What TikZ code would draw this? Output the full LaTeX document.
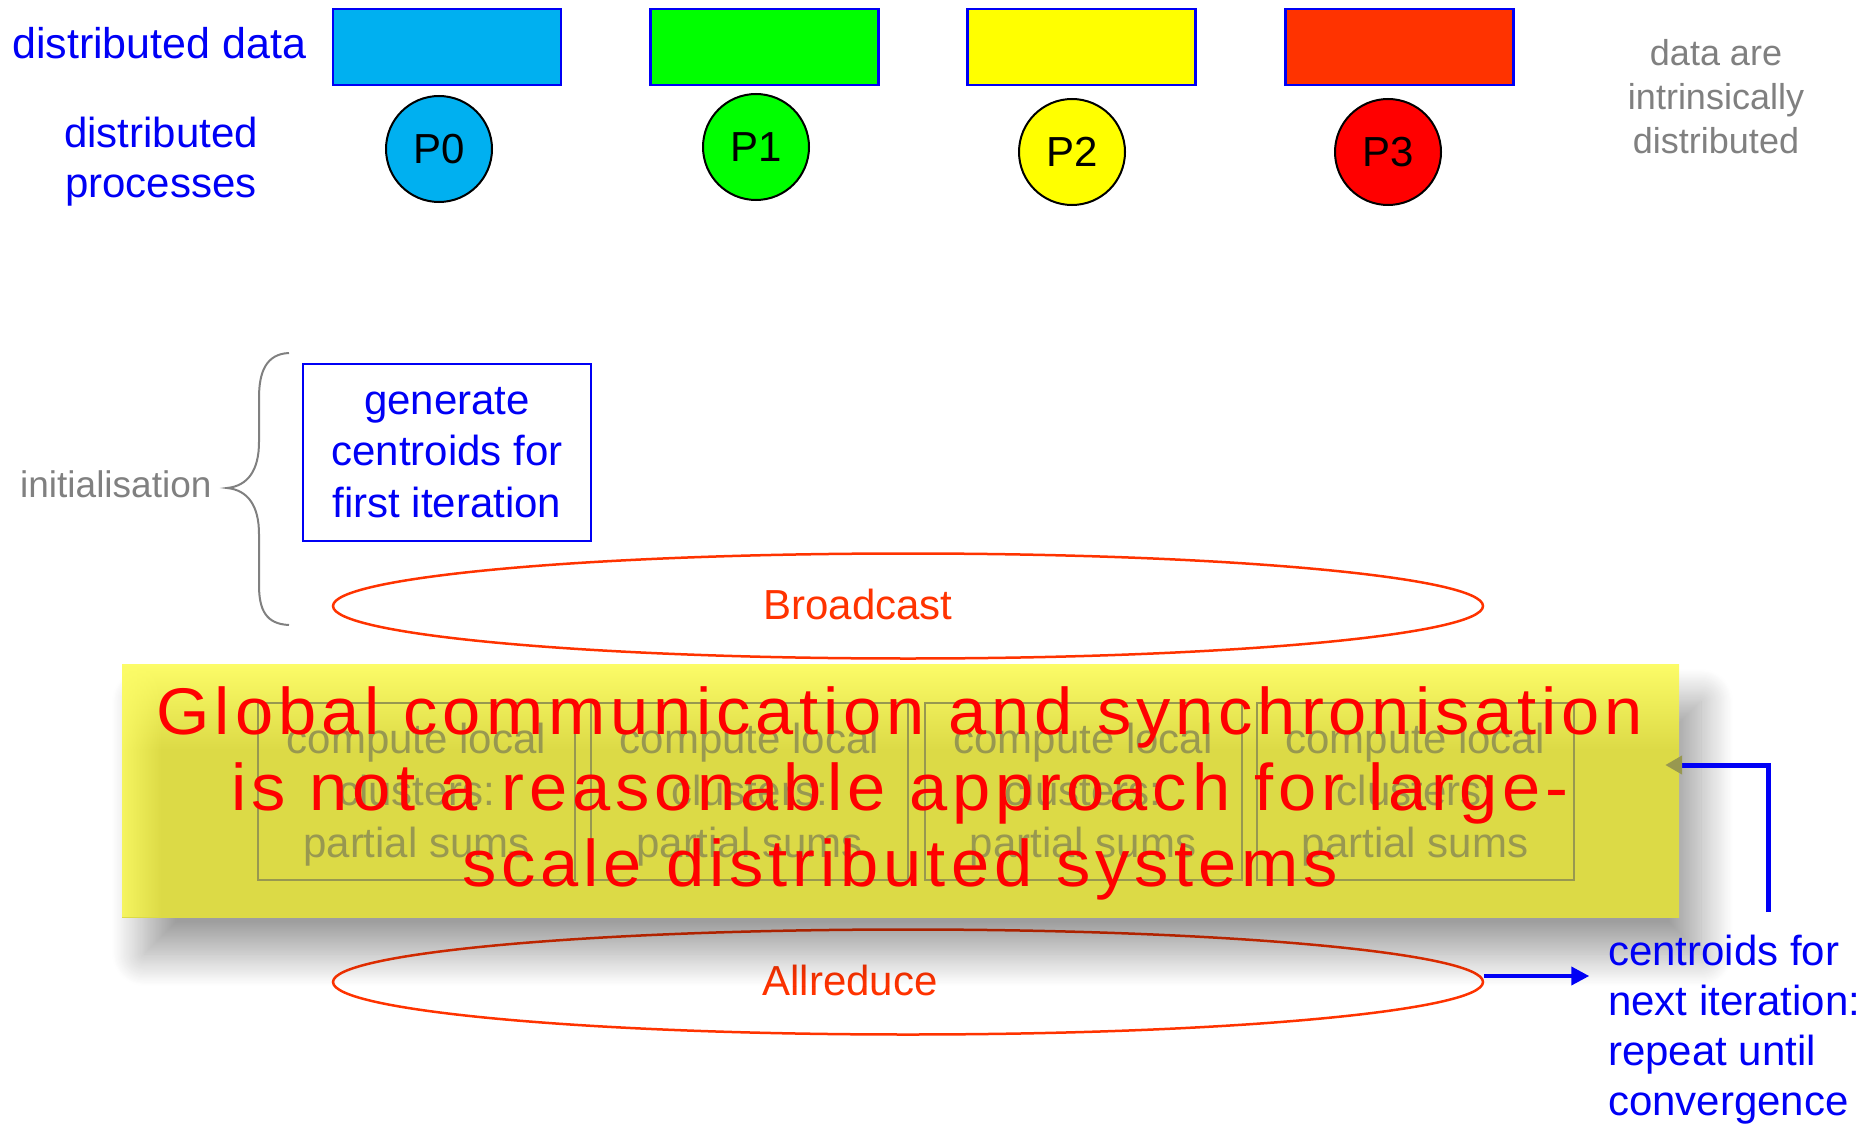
\documentclass[tikz,border=0pt]{standalone}
\usepackage{fontspec}
\setmainfont{Liberation Sans}
\newfontfamily\headfont{Liberation Sans}[LetterSpace=7.5, FakeStretch=1.04]
\usetikzlibrary{arrows.meta,shapes.geometric,shadows.blur,fadings,calc}

\definecolor{txtblue}{RGB}{0,0,245}
\definecolor{txtgray}{RGB}{128,128,128}
\definecolor{ptcyan}{RGB}{0,176,240}
\definecolor{ptgreen}{RGB}{0,255,0}
\definecolor{ptyellow}{RGB}{255,255,0}
\definecolor{ptorange}{RGB}{255,51,0}
\definecolor{ptred}{RGB}{255,0,0}
\definecolor{collective}{RGB}{255,51,0}
\definecolor{veiled}{RGB}{152,152,80}
\definecolor{paneltop}{RGB}{252,252,104}
\definecolor{panelbot}{RGB}{220,218,70}

\pgfdeclareverticalshading{panelshade}{100bp}{color(0bp)=(panelbot); color(58bp)=(panelbot); color(75bp)=(paneltop); color(100bp)=(paneltop)}

\tikzset{
  big/.style={font=\fontsize{42}{51}\selectfont},
  small/.style={font=\fontsize{36}{44}\selectfont},
  txt/.style={inner sep=0pt, anchor=base},
  datablock/.style={draw=txtblue, line width=2.5pt, minimum width=228pt, minimum height=76pt, inner sep=0pt},
  proc/.style={circle, draw=black, line width=2pt, minimum size=106pt, inner sep=0pt, big},
  collect/.style={ellipse, draw=collective, line width=2.5pt, minimum width=1150pt, minimum height=105pt, inner sep=0pt},
  cell/.style={draw=veiled, line width=2pt, minimum width=317pt, minimum height=177pt, inner sep=0pt},
  feed/.style={draw=txtblue, line width=5pt, line join=miter, -{Triangle[length=17pt, width=18pt, color=veiled]}},
  result/.style={draw=txtblue, line width=4pt, -{Triangle[length=18pt, width=18pt]}}
}

\begin{document}
\begin{tikzpicture}[x=1pt,y=-1pt]
\useasboundingbox (0,0) rectangle (1874,1126);

% data blocks and the processes owning them
% (multi-line labels are placed by the baseline of their last line)
\node[txt, anchor=base west, text=txtblue, font=\fontsize{43}{51}\selectfont] (lbldata) at (12,59) {distributed data};
\node[txt, text=txtblue, align=center, font=\fontsize{42}{50}\selectfont] (lblproc) at (161,198) {distributed\\processes};

\node[datablock, fill=ptcyan]   (d0) at (447,47) {};
\node[datablock, fill=ptgreen]  (d1) at (764.5,47) {};
\node[datablock, fill=ptyellow] (d2) at (1081.5,47) {};
\node[datablock, fill=ptorange] (d3) at (1399.5,47) {};

\node[proc, fill=ptcyan]   (p0) at (439,149) {P0};
\node[proc, fill=ptgreen]  (p1) at (756,147) {P1};
\node[proc, fill=ptyellow] (p2) at (1072,152) {P2};
\node[proc, fill=ptred]    (p3) at (1388,152) {P3};

\node[txt, small, text=txtgray, align=center] (note) at (1716,154) {data are\\intrinsically\\distributed};

% initialisation phase
\node[txt, anchor=base west, text=txtgray, font=\fontsize{37}{44}\selectfont] (init) at (20,497) {initialisation};
\draw[txtgray, line width=2pt] (289,353) .. controls (266,354) and (259,372) .. (259,398)
  -- (259,442) .. controls (259,470) and (248,486) .. (227,488)
  .. controls (248,490) and (259,506) .. (259,534)
  -- (259,585) .. controls (259,610) and (266,624) .. (289,625);

\node[draw=txtblue, line width=2.5pt, minimum width=288pt, minimum height=177pt, inner sep=0pt] (genbox) at (447,452.5) {};
\node[txt, text=txtblue, align=center, font=\fontsize{42}{51.5}\selectfont] (gentext) at (447,517) {generate\\centroids for\\first iteration};

% collective operations
\node[collect] (bcast) at (908,606) {};
\node[txt, big, text=collective] (bcastlbl) at (858,619) {Broadcast};
\node[collect] (allred) at (908,982) {};
\node[txt, big, text=collective] (allredlbl) at (850,995) {Allreduce};

% warning panel over the local computation step
\node[shade, shading=panelshade, minimum width=1557pt, minimum height=253pt, inner sep=0pt,
      blur shadow={shadow xshift=22pt, shadow yshift=-37pt, shadow blur radius=32pt, shadow blur steps=30, shadow opacity=38}]
      (panel) at (900.5,790.5) {};
\fill[paneltop, path fading=east, fill opacity=0.8] (panel.north west) rectangle ([xshift=40pt]panel.south west);

\foreach \i/\cx in {1/416.5, 2/749.5, 3/1083, 4/1415} {
  \node[cell] (c\i) at (\cx,791.5) {};
  \node[txt, text=veiled, align=center, font=\fontsize{42}{52}\selectfont] (c\i t) at (\cx,857) {compute local\\clusters:\\partial sums};
}

\node[txt, text=red, align=center, font=\headfont\fontsize{66}{76}\selectfont] (msg) at (900,886)
  {Global communication and synchronisation\\is not a reasonable approach for large-\\scale distributed systems};

% iteration loop
\coordinate (loopfoot) at (1768,912);
\draw[feed] (loopfoot) |- ($(panel.east)+(-14,-25.5)$);
\draw[result] ($(allred.east)+(0,-6)$) -- ($(allred.east)+(105,-6)$);

\node[txt, anchor=base west, text=txtblue, align=left, font=\fontsize{42}{50}\selectfont] (nextit) at (1608,1115)
  {centroids for\\next iteration:\\repeat until\\convergence};
\end{tikzpicture}
\end{document}
